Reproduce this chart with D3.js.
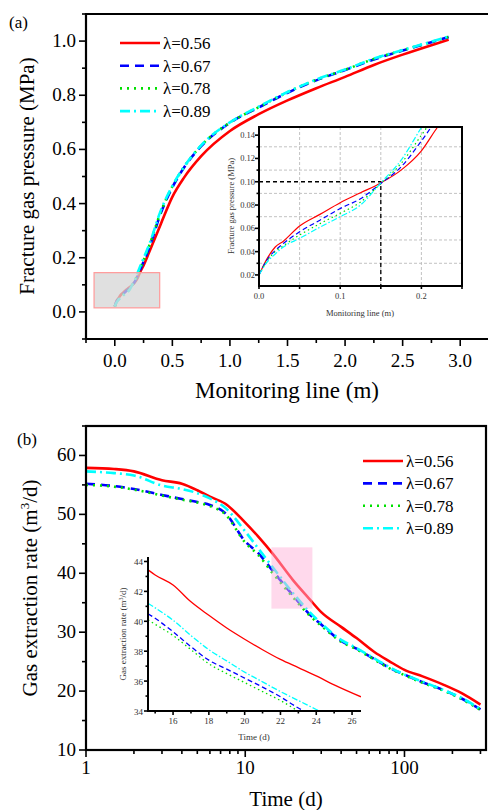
<!DOCTYPE html>
<html>
<head>
<meta charset="utf-8">
<script src="https://cdn.jsdelivr.net/npm/d3@7"></script>
<style>
  body { margin: 0; background: #fff; }
  svg { display: block; }
  text { font-family: "Liberation Serif", "Times New Roman", serif; }
</style>
</head>
<body>
<svg id="chart" width="488" height="810"></svg>
<script>
// ---- data: panel (a) fracture gas pressure along monitoring line ----
var lambdas = ["λ=0.56", "λ=0.67", "λ=0.78", "λ=0.89"];
var colors = ["#ff0000", "#0000ff", "#00e000", "#00ffff"];
var dashes = [null, "9,6", "2,5", "10,4,2,4"];

var lineX = [0, 0.01, 0.02, 0.03, 0.05, 0.075, 0.1, 0.125, 0.15, 0.175, 0.2, 0.22, 0.25, 0.3, 0.4, 0.5, 0.6, 0.75, 1.0, 1.25, 1.5, 1.75, 2.0, 2.25, 2.5, 2.75, 2.9];
var pRed   = [0.02, 0.034, 0.044, 0.049, 0.062, 0.072, 0.082, 0.0905, 0.099, 0.110, 0.1265, 0.147, 0.172, 0.222, 0.325, 0.425, 0.495, 0.575, 0.668, 0.730, 0.781, 0.826, 0.868, 0.912, 0.950, 0.985, 1.005];
var pBlue  = [0.02, 0.033, 0.041, 0.047, 0.057, 0.067, 0.077, 0.0855, 0.0985, 0.1128, 0.135, 0.155, 0.185, 0.238, 0.365, 0.460, 0.532, 0.612, 0.698, 0.755, 0.809, 0.855, 0.893, 0.932, 0.965, 0.996, 1.015];
var pGreen = [0.02, 0.032, 0.040, 0.045, 0.0543, 0.064, 0.0729, 0.0826, 0.0985, 0.1157, 0.140, 0.160, 0.190, 0.245, 0.370, 0.463, 0.534, 0.614, 0.699, 0.756, 0.811, 0.857, 0.894, 0.934, 0.966, 0.997, 1.016];
var pCyan  = [0.02, 0.031, 0.038, 0.044, 0.0514, 0.061, 0.070, 0.080, 0.099, 0.1185, 0.1466, 0.168, 0.198, 0.250, 0.375, 0.465, 0.535, 0.615, 0.700, 0.758, 0.812, 0.858, 0.895, 0.935, 0.967, 0.998, 1.017];
var pressure = [pRed, pBlue, pGreen, pCyan];

var aTicksX = [0, 0.5, 1.0, 1.5, 2.0, 2.5, 3.0];
var aTicksY = [0.0, 0.2, 0.4, 0.6, 0.8, 1.0];
var insetATicksX = [0.0, 0.1, 0.2];
var insetATicksY = [0.02, 0.04, 0.06, 0.08, 0.10, 0.12, 0.14];
var insetAGridY = [0.03, 0.05, 0.07, 0.09, 0.11, 0.13];
var insetAGridX = [0.05, 0.1, 0.15, 0.2];
var zoomBoxA = [-0.18, 0.39, 0.015, 0.145];
var markA = [0.15, 0.10];

// ---- data: panel (b) gas extraction rate over time ----
var times = [1, 1.5, 2, 3, 4, 5, 6, 7.5, 10, 12, 15, 20, 25, 30, 40, 50, 65, 80, 100, 130, 175, 230, 300];
var qRed   = [57.9, 57.7, 57.3, 55.8, 55.2, 54.1, 53.0, 51.8, 48.6, 46.3, 43.2, 38.8, 35.8, 33.4, 30.9, 29.0, 26.6, 25.1, 23.6, 22.5, 21.1, 19.6, 17.7];
var qBlue  = [55.2, 54.8, 54.3, 53.3, 52.6, 52.1, 51.6, 50.2, 45.4, 43.5, 40.3, 36.2, 33.2, 31.3, 28.5, 27.2, 25.4, 24.0, 22.8, 21.5, 20.2, 18.7, 16.9];
var qGreen = [55.0, 54.7, 54.2, 53.2, 52.5, 52.0, 51.4, 50.0, 45.2, 43.2, 39.9, 35.9, 33.0, 31.1, 28.4, 27.1, 25.3, 23.9, 22.7, 21.4, 20.1, 18.6, 16.8];
var qCyan  = [57.3, 57.0, 56.6, 54.9, 54.3, 53.6, 52.7, 51.1, 47.1, 44.3, 40.9, 36.6, 33.6, 31.5, 28.7, 27.3, 25.5, 24.1, 22.8, 21.6, 20.2, 18.8, 16.9];
var rate = [qRed, qBlue, qGreen, qCyan];

var insetT = [14.6, 15, 16, 17, 18, 19, 20, 21, 22, 23, 24, 25, 26.5];
var iRed   = [43.44, 43.1, 42.43, 41.3, 40.4, 39.55, 38.8, 38.1, 37.45, 36.9, 36.35, 35.75, 34.95];
var iBlue  = [40.5, 40.2, 39.3, 38.3, 37.4, 36.8, 36.2, 35.6, 34.95, 34.2, 33.6, 33.0, 32.2];
var iGreen = [40.1, 39.8, 39.05, 38.1, 37.16, 36.5, 35.9, 35.3, 34.7, 34.0, 33.4, 32.8, 32.0];
var iCyan  = [41.2, 40.9, 40.07, 39.05, 38.1, 37.35, 36.6, 35.95, 35.3, 34.7, 34.1, 33.5, 32.7];
var insetRate = [iRed, iBlue, iGreen, iCyan];

var bTicksX = [1, 10, 100];
var bMinorX = [2, 3, 4, 5, 6, 7, 8, 9, 20, 30, 40, 50, 60, 70, 80, 90, 200, 300];
var bTicksY = [10, 20, 30, 40, 50, 60];
var insetBTicksX = [16, 18, 20, 22, 24, 26];
var insetBTicksY = [34, 36, 38, 40, 42, 44];
var zoomBoxB = [14.6, 26.4, 34.0, 44.4];

var svg = d3.select("#chart");
var defs = svg.append("defs");

function clip(id, x0, y0, x1, y1) {
  defs.append("clipPath").attr("id", id)
    .append("rect").attr("x", x0).attr("y", y0).attr("width", x1 - x0).attr("height", y1 - y0);
  return "url(#" + id + ")";
}

function styleLine(sel, i, w) {
  sel.attr("fill", "none")
    .attr("stroke", colors[i])
    .attr("stroke-width", w)
    .attr("stroke-dasharray", dashes[i]);
}

function drawLegend(g, x, y, dy) {
  lambdas.forEach(function(name, i) {
    g.append("line")
      .attr("x1", x).attr("x2", x + 40).attr("y1", y + i * dy).attr("y2", y + i * dy)
      .call(styleLine, i, 2.6);
    g.append("text")
      .attr("x", x + 43).attr("y", y + i * dy + 6)
      .attr("font-size", 17)
      .text(name);
  });
}

// outward tick helper
function ticks(g, axis, scale, values, len, y0, x0) {
  values.forEach(function(v) {
    if (axis == "x") {
      g.append("line").attr("x1", scale(v)).attr("x2", scale(v))
        .attr("y1", y0).attr("y2", y0 + len).attr("stroke", "#000").attr("stroke-width", 1.6);
    } else {
      g.append("line").attr("y1", scale(v)).attr("y2", scale(v))
        .attr("x1", x0).attr("x2", x0 - len).attr("stroke", "#000").attr("stroke-width", 1.6);
    }
  });
}

// ================= panel (a) =================
var A = { l: 86, r: 489, t: 14, b: 339 };
var xa = d3.scaleLinear().domain([-0.25, 3.25]).range([A.l, A.r]);
var ya = d3.scaleLinear().domain([-0.1, 1.1]).range([A.b, A.t]);
var ga = svg.append("g");

var lineA = d3.line().x(function(d) { return xa(d[0]); }).y(function(d) { return ya(d[1]); })
  .curve(d3.curveMonotoneX);
var curvesA = ga.append("g").attr("clip-path", clip("clipA", A.l, A.t, A.r, A.b));
[0, 1, 2, 3].forEach(function(i) {
  curvesA.append("path")
    .attr("d", lineA(lineX.map(function(x, k) { return [x, pressure[i][k]]; })))
    .call(styleLine, i, 2.6);
});

// translucent zoom box over the curves
ga.append("rect")
  .attr("x", xa(zoomBoxA[0])).attr("y", ya(zoomBoxA[3]))
  .attr("width", xa(zoomBoxA[1]) - xa(zoomBoxA[0]))
  .attr("height", ya(zoomBoxA[2]) - ya(zoomBoxA[3]))
  .attr("fill", "#d6d6d6").attr("fill-opacity", 0.75)
  .attr("stroke", "#ff9a9a").attr("stroke-width", 1.2);

ga.append("path")
  .attr("d", "M" + A.l + "," + A.b + "V" + A.t + "H" + A.r)
  .attr("fill", "none").attr("stroke", "#000").attr("stroke-width", 2.2);
ga.append("line").attr("x1", A.l).attr("x2", A.r).attr("y1", A.b).attr("y2", A.b)
  .attr("stroke", "#000").attr("stroke-width", 2.2);

ticks(ga, "x", xa, aTicksX, 7, A.b);
ticks(ga, "x", xa, d3.range(-0.25, 3.3, 0.5), 4, A.b);
ticks(ga, "y", ya, aTicksY, 7, 0, A.l);
ticks(ga, "y", ya, d3.range(-0.1, 1.15, 0.2), 4, 0, A.l);

aTicksX.forEach(function(v) {
  ga.append("text").attr("x", xa(v)).attr("y", 367).attr("text-anchor", "middle")
    .attr("font-size", 19).text(d3.format(".1f")(v));
});
aTicksY.forEach(function(v) {
  ga.append("text").attr("x", 76).attr("y", ya(v) + 6).attr("text-anchor", "end")
    .attr("font-size", 19).text(d3.format(".1f")(v));
});
ga.append("text").attr("x", 287).attr("y", 398).attr("text-anchor", "middle")
  .attr("font-size", 23).text("Monitoring line (m)");
ga.append("text").attr("transform", "translate(34,176) rotate(-90)").attr("text-anchor", "middle")
  .attr("font-size", 21).text("Fracture gas pressure (MPa)");
ga.append("text").attr("x", 9).attr("y", 28).attr("font-size", 17).text("(a)");

drawLegend(ga, 120, 43, 22.7);

// ---- inset (a) ----
var IA = { l: 259, r: 462, t: 127, b: 286 };
var xia = d3.scaleLinear().domain([0, 0.25]).range([IA.l, IA.r]);
var yia = d3.scaleLinear().domain([0.0105, 0.147]).range([IA.b, IA.t]);
var gia = svg.append("g");
gia.append("rect").attr("x", IA.l).attr("y", IA.t).attr("width", IA.r - IA.l).attr("height", IA.b - IA.t)
  .attr("fill", "#fff");

insetAGridX.forEach(function(v) {
  gia.append("line").attr("x1", xia(v)).attr("x2", xia(v)).attr("y1", IA.t).attr("y2", IA.b)
    .attr("stroke", "#bbb").attr("stroke-width", 0.9).attr("stroke-dasharray", "3,2");
});
insetAGridY.forEach(function(v) {
  gia.append("line").attr("y1", yia(v)).attr("y2", yia(v)).attr("x1", IA.l).attr("x2", IA.r)
    .attr("stroke", "#bbb").attr("stroke-width", 0.9).attr("stroke-dasharray", "3,2");
});
gia.append("path")
  .attr("d", "M" + xia(0) + "," + yia(markA[1]) + "H" + xia(markA[0]) + "V" + IA.b)
  .attr("fill", "none").attr("stroke", "#000").attr("stroke-width", 1.3).attr("stroke-dasharray", "4,3");

var lineIA = d3.line().x(function(d) { return xia(d[0]); }).y(function(d) { return yia(d[1]); })
  .curve(d3.curveMonotoneX);
var curvesIA = gia.append("g").attr("clip-path", clip("clipIA", IA.l, IA.t, IA.r, IA.b));
[0, 1, 2, 3].forEach(function(i) {
  curvesIA.append("path")
    .attr("d", lineIA(lineX.map(function(x, k) { return [x, pressure[i][k]]; }).filter(function(d) { return d[0] <= 0.3; })))
    .call(styleLine, i, 1.2)
    .attr("stroke-dasharray", [null, "5,3", "1.5,3", "6,2,1.5,2"][i]);
});
gia.append("rect").attr("x", IA.l).attr("y", IA.t).attr("width", IA.r - IA.l).attr("height", IA.b - IA.t)
  .attr("fill", "none").attr("stroke", "#000").attr("stroke-width", 2);

ticks(gia, "x", xia, [0, 0.05, 0.1, 0.15, 0.2, 0.25], 3, IA.b);
ticks(gia, "y", yia, insetATicksY, 4, 0, IA.l);
ticks(gia, "y", yia, insetAGridY, 2.5, 0, IA.l);
insetATicksX.forEach(function(v) {
  gia.append("text").attr("x", xia(v)).attr("y", 299).attr("text-anchor", "middle")
    .attr("font-size", 8.5).attr("fill", "#333").text(d3.format(".1f")(v));
});
insetATicksY.forEach(function(v) {
  gia.append("text").attr("x", 255).attr("y", yia(v) + 3).attr("text-anchor", "end")
    .attr("font-size", 8.5).attr("fill", "#333").text(d3.format(".2f")(v));
});
gia.append("text").attr("x", 360).attr("y", 316).attr("text-anchor", "middle")
  .attr("font-size", 8.5).attr("fill", "#333").text("Monitoring line (m)");
gia.append("text").attr("transform", "translate(234,206) rotate(-90)").attr("text-anchor", "middle")
  .attr("font-size", 8.5).attr("fill", "#333").text("Fracture gas pressure (MPa)");

// ================= panel (b) =================
var B = { l: 86, r: 486, t: 426, b: 750 };
var xb = d3.scaleLog().domain([1, 325]).range([B.l, B.r]);
var yb = d3.scaleLinear().domain([10, 65]).range([B.b, B.t]);
var gb = svg.append("g");

var lineB = d3.line().x(function(d) { return xb(d[0]); }).y(function(d) { return yb(d[1]); })
  .curve(d3.curveMonotoneX);
var curvesB = gb.append("g").attr("clip-path", clip("clipB", B.l, B.t, B.r, B.b));
[0, 1, 2, 3].forEach(function(i) {
  curvesB.append("path")
    .attr("d", lineB(times.map(function(t, k) { return [t, rate[i][k]]; })))
    .call(styleLine, i, 2.6);
});

gb.append("rect")
  .attr("x", xb(zoomBoxB[0])).attr("y", yb(zoomBoxB[3]))
  .attr("width", xb(zoomBoxB[1]) - xb(zoomBoxB[0]))
  .attr("height", yb(zoomBoxB[2]) - yb(zoomBoxB[3]))
  .attr("fill", "#ffb3d9").attr("fill-opacity", 0.5);

gb.append("rect").attr("x", B.l).attr("y", B.t).attr("width", B.r - B.l).attr("height", B.b - B.t)
  .attr("fill", "none").attr("stroke", "#000").attr("stroke-width", 2.2);

ticks(gb, "x", xb, bTicksX, 7, B.b);
ticks(gb, "x", xb, bMinorX, 4, B.b);
ticks(gb, "y", yb, bTicksY, 7, 0, B.l);
ticks(gb, "y", yb, [15, 25, 35, 45, 55, 65], 4, 0, B.l);

bTicksX.forEach(function(v) {
  gb.append("text").attr("x", xb(v)).attr("y", 774).attr("text-anchor", "middle")
    .attr("font-size", 19).text(v);
});
bTicksY.forEach(function(v) {
  gb.append("text").attr("x", 76).attr("y", yb(v) + 6).attr("text-anchor", "end")
    .attr("font-size", 19).text(v);
});
gb.append("text").attr("x", 286).attr("y", 806).attr("text-anchor", "middle")
  .attr("font-size", 21).text("Time (d)");
var yt = gb.append("text").attr("transform", "translate(37,588) rotate(-90)").attr("text-anchor", "middle")
  .attr("font-size", 21);
yt.append("tspan").text("Gas extraction rate (m");
yt.append("tspan").attr("font-size", 13).attr("dy", -8).text("3");
yt.append("tspan").attr("dy", 8).text("/d)");
gb.append("text").attr("x", 17).attr("y", 445).attr("font-size", 17).text("(b)");

drawLegend(gb, 363, 461, 22.4);

// ---- inset (b) ----
var IB = { l: 148, r: 361, t: 557, b: 711 };
var xib = d3.scaleLinear().domain([14.6, 26.5]).range([IB.l, IB.r]);
var yib = d3.scaleLinear().domain([34, 44.3]).range([IB.b, IB.t]);
var gib = svg.append("g");
var lineIB = d3.line().x(function(d) { return xib(d[0]); }).y(function(d) { return yib(d[1]); })
  .curve(d3.curveMonotoneX);
var curvesIB = gib.append("g").attr("clip-path", clip("clipIB", IB.l, IB.t, IB.r, IB.b));
[0, 1, 2, 3].forEach(function(i) {
  curvesIB.append("path")
    .attr("d", lineIB(insetT.map(function(t, k) { return [t, insetRate[i][k]]; })))
    .call(styleLine, i, 1.3)
    .attr("stroke-dasharray", [null, "5,3", "1.5,3", "6,2,1.5,2"][i]);
});
gib.append("path").attr("d", "M" + IB.l + "," + IB.t + "V" + IB.b + "H" + IB.r)
  .attr("fill", "none").attr("stroke", "#000").attr("stroke-width", 2);
ticks(gib, "x", xib, insetBTicksX, 4, IB.b);
ticks(gib, "x", xib, [15, 17, 19, 21, 23, 25], 2.5, IB.b);
ticks(gib, "y", yib, insetBTicksY, 4, 0, IB.l);
ticks(gib, "y", yib, [35, 37, 39, 41, 43], 2.5, 0, IB.l);
insetBTicksX.forEach(function(v) {
  gib.append("text").attr("x", xib(v)).attr("y", 724).attr("text-anchor", "middle")
    .attr("font-size", 9).attr("fill", "#333").text(v);
});
insetBTicksY.forEach(function(v) {
  gib.append("text").attr("x", 143).attr("y", yib(v) + 3.5).attr("text-anchor", "end")
    .attr("font-size", 9).attr("fill", "#333").text(v);
});
gib.append("text").attr("x", 254).attr("y", 740).attr("text-anchor", "middle")
  .attr("font-size", 9).attr("fill", "#333").text("Time (d)");
var iyt = gib.append("text").attr("transform", "translate(126,634) rotate(-90)").attr("text-anchor", "middle")
  .attr("font-size", 9).attr("fill", "#333");
iyt.append("tspan").text("Gas extraction rate (m");
iyt.append("tspan").attr("font-size", 6).attr("dy", -3.5).text("3");
iyt.append("tspan").attr("dy", 3.5).text("/d)");
</script>
</body>
</html>
